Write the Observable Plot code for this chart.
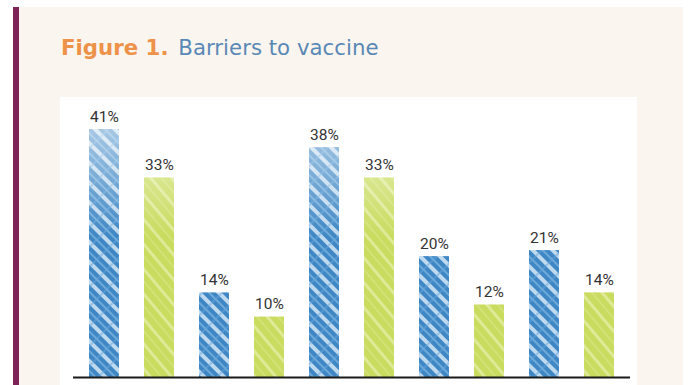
<!DOCTYPE html>
<html><head><meta charset="utf-8">
<script src="https://cdn.jsdelivr.net/npm/d3@7"></script>
<script src="https://cdn.jsdelivr.net/npm/@observablehq/plot@0.6"></script>
<style>
html,body{margin:0;padding:0;background:#fff;}
#page{position:relative;width:696px;height:385px;overflow:hidden;background:#fff;}
#cream{position:absolute;left:19px;top:7px;width:664px;height:378px;background:#faf6ef;}
#rule{position:absolute;left:13px;top:7px;width:6px;height:378px;background:#7e2356;}
#title{position:absolute;left:61px;top:36px;font-family:"DejaVu Sans",sans-serif;font-size:21.3px;line-height:24px;white-space:nowrap;}
#title .fig{color:#ef9249;font-weight:bold;}
#title .name{color:#5a88b6;margin-left:3px;}
#chart{position:absolute;left:60px;top:97px;width:577px;height:288px;background:#fff;}
#chart svg{display:block;}
</style></head>
<body><div id="page">
<div id="cream"></div>
<div id="rule"></div>
<div id="title"><span class="fig">Figure 1.</span> <span class="name">Barriers to vaccine</span></div>
<div id="chart"></div>
</div>
<script>
const categories = ["Barrier 1","Barrier 2","Barrier 3","Barrier 4","Barrier 5"];
const seriesNames = ["Group A","Group B"];
const seriesA = [41,14,38,20,21];
const seriesB = [33,10,33,12,14];

const rows = categories.flatMap((c,i)=>[
  {key:c+" | "+seriesNames[0], category:c, series:seriesNames[0], value:seriesA[i]},
  {key:c+" | "+seriesNames[1], category:c, series:seriesNames[1], value:seriesB[i]}
]);

const chart = Plot.plot({
  width:577, height:288, marginTop:8, marginBottom:8, marginLeft:13, marginRight:7,
  style:{background:"#fff", fontFamily:"Roboto, sans-serif"},
  x:{domain: rows.map(d=>d.key), paddingInner:0.46, paddingOuter:0.23, axis:null},
  y:{domain:[0,45], axis:null},
  color:{type:"identity"},
  marks:[
    Plot.barY(rows,{x:"key", y:"value", fill: d => d.series===seriesNames[0] ? "url(#bluePat)" : "url(#greenPat)"}),
    Plot.barY(rows,{x:"key", y:"value", fill:"url(#fadeTop)"}),
    Plot.text(rows,{x:"key", y:"value", text: d => d.value+"%", lineAnchor:"bottom", dy:-8, fontSize:15.5, fill:"#333333"}),
    Plot.ruleY([0],{stroke:"#1a1a1a", strokeWidth:2})
  ]
});

const svg = d3.select(chart);
const defs = svg.insert("defs",":first-child");
const bp = defs.append("pattern").attr("id","bluePat").attr("patternUnits","userSpaceOnUse")
  .attr("width",14).attr("height",14).attr("patternTransform","rotate(-45)");
bp.append("rect").attr("width",14).attr("height",14).attr("fill","#3f87c4");
bp.append("rect").attr("x",0).attr("width",4).attr("height",14).attr("fill","#d6e8f6").attr("opacity",0.85);
bp.append("rect").attr("x",8).attr("width",2).attr("height",14).attr("fill","#8cc0e8").attr("opacity",0.6);
bp.append("rect").attr("y",0).attr("width",14).attr("height",2).attr("fill","#6aa8db").attr("opacity",0.5);

const gp = defs.append("pattern").attr("id","greenPat").attr("patternUnits","userSpaceOnUse")
  .attr("width",16).attr("height",16).attr("patternTransform","rotate(-40)");
gp.append("rect").attr("width",16).attr("height",16).attr("fill","#c9dc5f");
gp.append("rect").attr("x",0).attr("width",3).attr("height",16).attr("fill","#e5efa8").attr("opacity",0.75);
gp.append("rect").attr("x",9).attr("width",1.5).attr("height",16).attr("fill","#dbe88c").attr("opacity",0.7);

const fg = defs.append("linearGradient").attr("id","fadeTop").attr("gradientUnits","userSpaceOnUse")
  .attr("x1",0).attr("y1",30).attr("x2",0).attr("y2",140);
fg.append("stop").attr("offset",0).attr("stop-color","#ffffff").attr("stop-opacity",0.55);
fg.append("stop").attr("offset",1).attr("stop-color","#ffffff").attr("stop-opacity",0);

document.getElementById("chart").appendChild(chart);
</script>
</body></html>
